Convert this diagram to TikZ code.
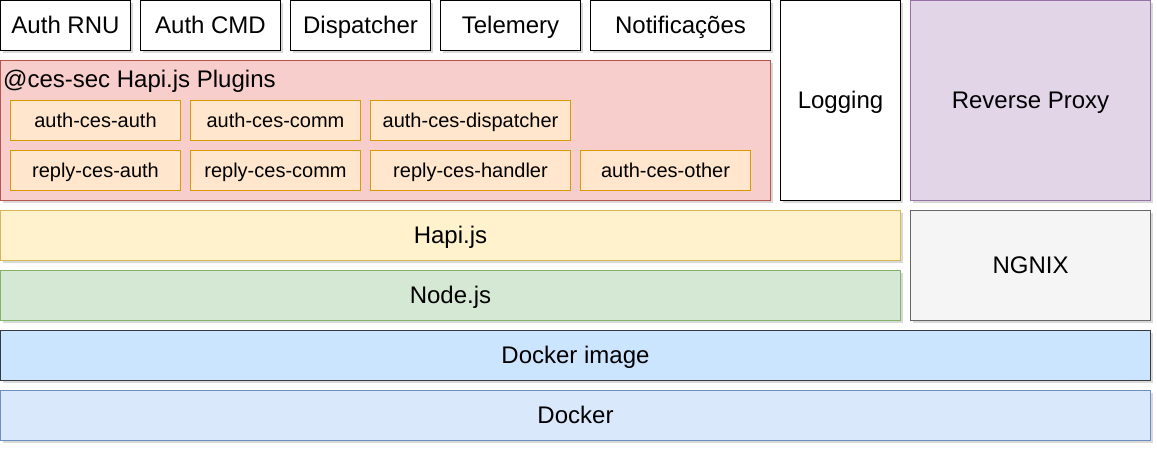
\documentclass[tikz,border=0pt]{standalone}
\usepackage{fontspec}
\setmainfont{Liberation Sans}
\usepackage{xcolor}
\usepackage{tikz}
\usetikzlibrary{positioning,shadows}

\definecolor{pluginfill}{HTML}{FFE6CC}
\definecolor{pluginline}{HTML}{D79B00}
\definecolor{groupfill}{HTML}{F8CECC}
\definecolor{groupline}{HTML}{B85450}
\definecolor{hapifill}{HTML}{FFF2CC}
\definecolor{hapiline}{HTML}{D6B656}
\definecolor{nodefill}{HTML}{D5E8D4}
\definecolor{nodeline}{HTML}{82B366}
\definecolor{proxyfill}{HTML}{E1D5E7}
\definecolor{proxyline}{HTML}{9673A6}
\definecolor{ngnixfill}{HTML}{F5F5F5}
\definecolor{ngnixline}{HTML}{666666}
\definecolor{imagefill}{HTML}{CCE5FF}
\definecolor{imageline}{HTML}{36393D}
\definecolor{dockerfill}{HTML}{DAE8FC}
\definecolor{dockerline}{HTML}{6C8EBF}

\begin{document}
\begin{tikzpicture}[x=1pt, y=-1pt,
    flat/.style={draw, fill=white, line width=1pt, anchor=north west, inner sep=0pt,
        text height=21.6pt, text depth=5pt, font=\fontsize{24}{28}\selectfont},
    box/.style={flat, drop shadow={shadow xshift=2pt, shadow yshift=-2pt, fill=black!60, opacity=0.25}},
    plugin/.style={flat, draw=pluginline, fill=pluginfill, minimum width=170pt, minimum height=40pt,
        text height=18pt, text depth=4.2pt, font=\fontsize{20}{24}\selectfont}]
    \useasboundingbox (0,0) rectangle (1157,448);

    % top row
    \node[box, minimum width=130pt, minimum height=50pt] (rnu) at (0,0) {Auth RNU};
    \node[box, minimum width=140pt, minimum height=50pt] (cmd) at (140,0) {Auth CMD};
    \node[box, minimum width=140pt, minimum height=50pt] (disp) at (290,0) {Dispatcher};
    \node[box, minimum width=140pt, minimum height=50pt] (tele) at (440,0) {Telemery};
    \node[box, minimum width=180pt, minimum height=50pt] (notif) at (590,0) {Notificações};

    % plugins
    \node[box, draw=groupline, fill=groupfill, minimum width=770pt, minimum height=140pt] (plugins) at (0,60) {};
    \node[anchor=base west, inner sep=0pt, font=\fontsize{24}{28}\selectfont] (title) at (3,87) {@ces-sec Hapi.js Plugins};
    \node[plugin] (aauth) at (10,100) {auth-ces-auth};
    \node[plugin] (acomm) at (190,100) {auth-ces-comm};
    \node[plugin, minimum width=200pt] (adisp) at (370,100) {auth-ces-dispatcher};
    \node[plugin] (rauth) at (10,150) {reply-ces-auth};
    \node[plugin] (rcomm) at (190,150) {reply-ces-comm};
    \node[plugin, minimum width=200pt] (rhand) at (370,150) {reply-ces-handler};
    \node[plugin] (aother) at (580,150) {auth-ces-other};

    \node[box, minimum width=120pt, minimum height=200pt] (log) at (780,0) {Logging};
    \node[box, draw=proxyline, fill=proxyfill, minimum width=240pt, minimum height=200pt] (proxy) at (910,0) {Reverse Proxy};

    % layers
    \node[box, draw=hapiline, fill=hapifill, minimum width=900pt, minimum height=50pt] (hapi) at (0,210) {Hapi.js};
    \node[box, draw=nodeline, fill=nodefill, minimum width=900pt, minimum height=50pt] (nodejs) at (0,270) {Node.js};
    \node[box, draw=ngnixline, fill=ngnixfill, minimum width=240pt, minimum height=110pt] (ngnix) at (910,210) {NGNIX};
    \node[box, draw=imageline, fill=imagefill, minimum width=1150pt, minimum height=50pt] (image) at (0,330) {Docker image};
    \node[box, draw=dockerline, fill=dockerfill, minimum width=1150pt, minimum height=50pt] (docker) at (0,390) {Docker};
\end{tikzpicture}
\end{document}
